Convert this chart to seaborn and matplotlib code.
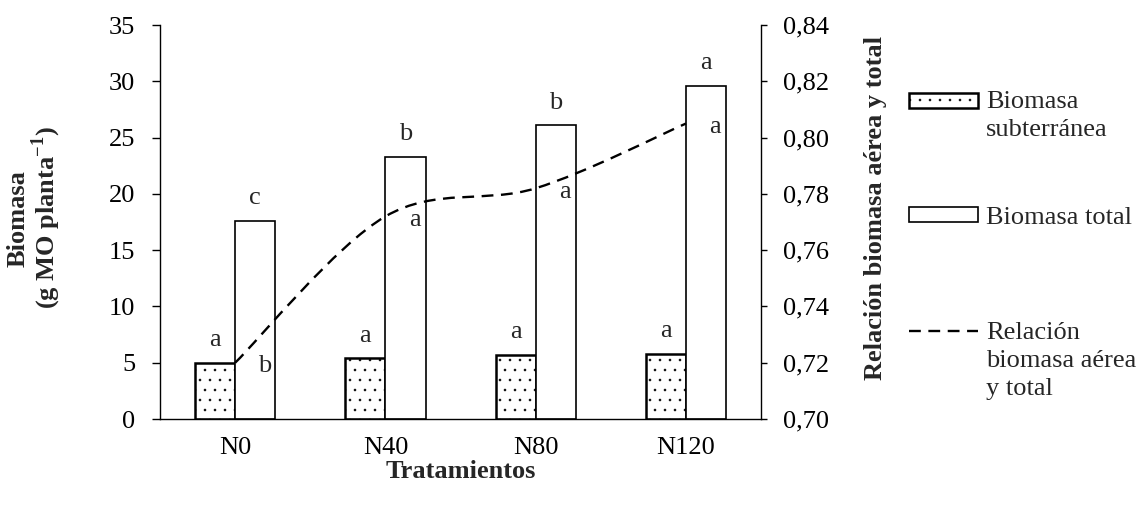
import numpy as np
import pandas as pd
import matplotlib
matplotlib.use("Agg")
import matplotlib.pyplot as plt
import matplotlib.hatch as mhatch
import seaborn as sns
from matplotlib.path import Path
from matplotlib.patches import PathPatch, Rectangle
from matplotlib.lines import Line2D
from matplotlib.legend_handler import HandlerPatch, HandlerLine2D
from matplotlib.transforms import Affine2D
from matplotlib.ticker import FixedLocator, FixedFormatter

# ---------------- data ----------------
categorias = ["N0", "N40", "N80", "N120"]
biomasa_subterranea = [5.0, 5.4, 5.7, 5.8]
biomasa_total = [17.6, 23.3, 26.1, 29.6]
relacion = [0.720, 0.772, 0.782, 0.805]
letras_sub = ["a", "a", "a", "a"]
letras_total = ["c", "b", "b", "a"]
letras_rel = ["b", "a", "a", "a"]
ticks_izq = [0, 5, 10, 15, 20, 25, 30, 35]
ticks_der = [0.70, 0.72, 0.74, 0.76, 0.78, 0.80, 0.82, 0.84]
etiquetas_der = ["0,70", "0,72", "0,74", "0,76", "0,78", "0,80", "0,82", "0,84"]
series = ["Biomasa\nsubterránea", "Biomasa total"]
serie_linea = "Relación\nbiomasa aérea\ny total"

# finer dot hatch (smaller, denser dots like the reference)
try:
    class _FineDots(mhatch.SmallFilledCircles):
        def __init__(self, hatch, density):
            super().__init__(hatch, density)
            nr = int(hatch.count('.') * density * 5 / 3)
            nr = nr - (nr % 2)
            self.num_rows = nr
            if nr == 0:
                self.num_shapes = 0
                self.num_vertices = 0
            else:
                self.num_shapes = ((nr // 2 + 1) * (nr + 1) + (nr // 2) * nr)
                self.num_vertices = (self.num_shapes * len(self.shape_vertices) *
                                     (1 if self.filled else 2))
    mhatch._hatch_types = [(_FineDots if c is mhatch.SmallFilledCircles else c)
                           for c in mhatch._hatch_types]
except Exception:
    pass

# ---------------- style ----------------
sns.set_theme(style="white")
plt.rcParams["font.family"] = ["Liberation Serif", "DejaVu Serif"]
plt.rcParams["mathtext.fontset"] = "custom"
plt.rcParams["mathtext.rm"] = "Liberation Serif"
plt.rcParams["mathtext.bf"] = "Liberation Serif:bold"
plt.rcParams["hatch.color"] = "#555555"
plt.rcParams["hatch.linewidth"] = 0.4
FS = 19

df = pd.DataFrame({
    "Tratamiento": categorias * 2,
    "Biomasa": biomasa_subterranea + biomasa_total,
    "Serie": [series[0]] * len(categorias) + [series[1]] * len(categorias),
})

fig = plt.figure(figsize=(11.39, 5.09), dpi=100)
ax = fig.add_axes([0.1405, 0.1768, 0.5277, 0.774])

sns.barplot(data=df, x="Tratamiento", y="Biomasa", hue="Serie", order=categorias,
            hue_order=series, palette=["white", "white"], saturation=1,
            edgecolor="black", linewidth=1.2, width=0.534, gap=0, legend=False, ax=ax)

# subterranean bars: dotted & thicker edge
for p in ax.containers[0]:
    p.set_hatch(".")
    p.set_linewidth(1.8)

ax.set_xlim(-0.5, len(categorias) - 0.5)
ax.set_ylim(0, 35)
ax.yaxis.set_major_locator(FixedLocator(ticks_izq))
ax.tick_params(axis="y", which="both", direction="out", length=5.8, width=1.0,
               labelsize=FS, pad=12, left=True, colors="black")
ax.tick_params(axis="x", length=0, labelsize=FS, pad=13, colors="black")
for s in ["top", "right"]:
    ax.spines[s].set_visible(False)
for s in ["left", "bottom"]:
    ax.spines[s].set_color("black")
    ax.spines[s].set_linewidth(1.0)

ax.set_xlabel("Tratamientos", fontsize=FS, fontweight="bold")
ax.xaxis.set_label_coords(0.5, -0.105)
ax.set_ylabel("Biomasa\n(g MO planta$^{\\mathbf{-1}}$)", fontsize=FS,
              fontweight="bold", linespacing=1.0)
ax.yaxis.set_label_coords(-0.162, 0.51)

# letters above bars
for cont, letras in zip(ax.containers, [letras_sub, letras_total]):
    for p, l in zip(cont, letras):
        ax.annotate(l, (p.get_x() + p.get_width() / 2, p.get_height()),
                    xytext=(0, 12), textcoords="offset points",
                    ha="center", va="baseline", fontsize=FS)

# ratio line on secondary axis (smoothed Bezier through the data points)
ax2 = ax.twinx()
ax2.set_ylim(ticks_der[0], ticks_der[-1])
ax2.yaxis.set_major_locator(FixedLocator(ticks_der))
ax2.yaxis.set_major_formatter(FixedFormatter(etiquetas_der))
ax2.tick_params(axis="y", direction="out", length=4.3, width=1.0, labelsize=FS,
                pad=11.5, right=True, colors="black")
for s in ["top", "left", "bottom"]:
    ax2.spines[s].set_visible(False)
ax2.spines["right"].set_color("black")
ax2.spines["right"].set_linewidth(1.0)
ax2.grid(False)
ax.grid(False)

xs = np.arange(len(categorias), dtype=float)
ys = np.array(relacion, dtype=float)
pts = np.column_stack([xs, ys])
verts = [tuple(pts[0])]
codes = [Path.MOVETO]
n = len(pts)
for i in range(n - 1):
    p0 = pts[max(i - 1, 0)]
    p1 = pts[i]
    p2 = pts[i + 1]
    p3 = pts[min(i + 2, n - 1)]
    c1 = p1 + (p2 - p0) / 6.0
    c2 = p2 - (p3 - p1) / 6.0
    verts += [tuple(c1), tuple(c2), tuple(p2)]
    codes += [Path.CURVE4] * 3
ls = (0, (5.0, 3.2))
curve = PathPatch(Path(verts, codes), facecolor="none", edgecolor="black",
                  linewidth=1.7, linestyle=ls, transform=ax2.transData)
ax2.add_patch(curve)

for x, y, l in zip(xs, ys, letras_rel):
    ax2.annotate(l, (x, y), xytext=(21, -7), textcoords="offset points",
                 ha="center", va="baseline", fontsize=FS)

ax2.set_ylabel("Relación biomasa aérea y total", fontsize=FS, fontweight="bold")
ax2.yaxis.set_label_coords(1.171, 0.536)


# ---------------- legend ----------------
class ShiftedPatch(HandlerPatch):
    def __init__(self, shift, **kw):
        super().__init__(**kw)
        self.shift = shift

    def create_artists(self, legend, orig_handle, xdescent, ydescent, width,
                       height, fontsize, trans):
        t = Affine2D().translate(0, self.shift) + trans
        return super().create_artists(legend, orig_handle, xdescent, ydescent,
                                      width, height, fontsize, t)


class ShiftedLine(HandlerLine2D):
    def __init__(self, shift, **kw):
        super().__init__(**kw)
        self.shift = shift

    def create_artists(self, legend, orig_handle, xdescent, ydescent, width,
                       height, fontsize, trans):
        t = Affine2D().translate(0, self.shift) + trans
        return super().create_artists(legend, orig_handle, xdescent, ydescent,
                                      width, height, fontsize, t)


h_sub = Rectangle((0, 0), 1, 1, facecolor="white", edgecolor="black",
                  linewidth=1.8, hatch=".")
h_tot = Rectangle((0, 0), 1, 1, facecolor="white", edgecolor="black", linewidth=1.2)
h_lin = Line2D([], [], color="black", linewidth=1.7, linestyle=ls)

W, H = 1139.0, 509.0
common = dict(frameon=False, fontsize=FS, handlelength=2.6, handleheight=0.48,
              handletextpad=0.32, borderpad=0, borderaxespad=0, loc="upper left")
leg_specs = [
    (h_sub, series[0], ShiftedPatch(10.8), 91),
    (h_tot, series[1], ShiftedPatch(0), 207),
    (h_lin, serie_linea, ShiftedLine(21.6), 322),
]
for h, lab, handler, ytop in leg_specs:
    leg = fig.legend([h], [lab], bbox_to_anchor=(909 / W, 1 - ytop / H),
                     handler_map={type(h): handler}, **common)
    for t in leg.get_texts():
        t.set_linespacing(1.36)

fig.savefig("out.png", dpi=100)
